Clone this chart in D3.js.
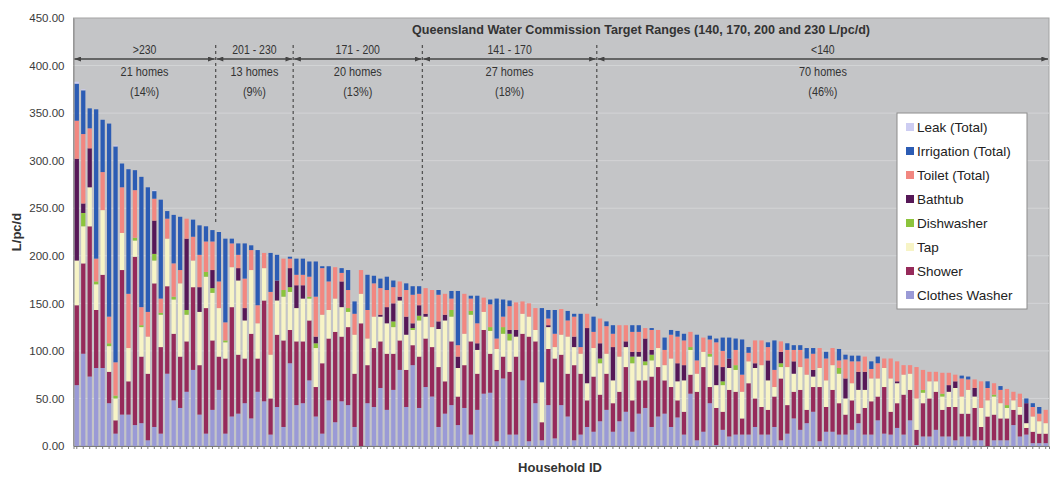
<!DOCTYPE html>
<html>
<head>
<meta charset="utf-8">
<script src="https://cdn.jsdelivr.net/npm/d3@7"></script>
<style>
  body { margin: 0; background: #fff; }
  text { font-family: "Liberation Sans", Arial, sans-serif; }
</style>
</head>
<body>
<div id="chart"></div>
<script>
// household end-use volumes, L/pc/d, households sorted by total use
var clothesWasher = [64,97,73,82,82,45,13,33,33,22, 24,6,20,13,76,48,40,57,80,33, 13,38,59,13,31,34,45,29,57,47,
  12,41,20,87,43,45,69,31,13,48, 25,47,43,20,0,45,41,61,38,59, 80,41,85,40,62,52,20,34,43,22,
  40,12,38,55,56,5,71,12,12,69, 5,45,6,43,8,43,31,6,12,20, 15,26,38,15,26,36,15,34,40,20,
  31,34,20,30,12,55,6,15,45,1, 17,10,12,12,12,20,12,12,20,6, 13,29,17,24,36,5,15,15,12,12,
  17,24,12,12,27,13,12,19,12,27, 1,10,10,17,10,10,6,10,10,6, 6,0,6,6,6,22,10,12,3,3,3];
var shower = [84,95,158,61,98,33,14,152,35,177, 70,70,151,91,92,70,54,53,87,52, 132,73,35,79,115,62,47,89,35,106,
  38,76,91,35,67,65,63,31,74,65, 95,68,82,56,129,40,62,49,59,38, 31,39,21,54,51,52,63,34,67,30,
  45,98,38,67,41,75,23,66,82,49, 110,65,19,59,84,53,45,79,64,28, 58,28,38,30,31,47,33,35,29,53,
  52,35,42,18,24,20,51,68,17,39, 19,49,45,17,54,30,29,26,32,65, 30,28,42,14,26,57,26,44,33,21,
  31,10,28,35,25,49,24,26,42,32, 16,35,40,40,28,31,35,24,24,34, 14,31,27,23,23,16,23,7,12,10,10];
var tap = [47,39,41,27,68,27,23,39,35,17, 31,39,24,34,50,36,77,28,28,56, 33,50,51,17,42,78,40,67,37,34,
  46,36,46,40,35,45,23,41,51,30, 35,31,16,41,31,28,33,26,32,28, 42,37,16,38,23,21,40,64,26,30,
  33,28,25,19,24,22,24,33,21,21, 21,12,42,23,12,21,39,19,21,18, 30,33,21,24,37,21,39,25,16,17,
  20,16,30,20,33,26,19,16,32,24, 28,23,23,28,23,32,44,31,10,12, 40,19,24,37,11,20,28,26,31,17,
  18,25,19,24,19,20,35,21,21,17, 33,11,18,11,14,16,20,18,25,12, 20,17,19,16,11,10,8,5,16,13,11];
var dishwasher = [0,14,0,3,0,3,3,0,0,3, 2,0,7,2,0,3,0,5,0,0, 5,5,0,2,0,0,0,0,0,0,
  0,0,7,5,0,0,2,5,0,0, 0,0,4,0,0,0,0,0,0,6, 0,0,2,5,0,0,0,0,7,0,
  0,4,0,0,4,0,7,7,0,0, 0,0,0,0,0,0,0,0,0,0, 0,5,0,0,0,0,7,0,4,6,
  0,0,0,0,0,3,0,0,3,0, 4,0,5,0,0,0,0,0,0,4, 0,0,0,0,0,0,0,0,6,0,
  0,0,0,0,0,0,0,0,0,0, 0,3,0,0,3,0,0,0,0,0, 0,0,2,0,3,0,0,0,0,0,0];
var bathtub = [107,10,41,0,0,0,0,0,0,0, 0,0,35,0,0,0,0,75,0,26, 0,19,0,0,0,13,13,0,0,0,
  0,21,0,20,24,14,0,7,0,0, 0,27,0,0,0,0,0,2,17,19, 4,19,5,11,3,0,8,6,0,12,
  0,0,7,0,0,0,0,4,7,0, 0,0,0,2,0,0,0,11,0,58, 0,16,0,35,0,6,5,5,24,5,
  0,0,0,19,16,0,0,0,0,21, 15,10,0,0,0,5,0,21,0,12, 0,13,0,0,7,0,0,0,0,21,
  0,19,19,0,0,0,0,2,0,0, 0,0,0,0,0,7,7,0,0,9, 0,0,0,0,0,0,0,21,0,0,0];
var toilet = [40,73,21,24,40,28,35,48,57,50, 19,26,23,15,21,35,14,21,25,34, 32,30,28,19,25,14,31,21,19,16,
  66,0,33,10,11,11,21,42,49,30, 33,9,19,22,25,30,35,28,18,17, 16,28,30,12,27,39,28,22,12,12,
  42,13,21,15,24,11,11,25,29,13, 14,23,0,7,14,27,17,21,7,15, 17,26,29,14,33,17,21,21,11,21,
  19,16,25,28,26,16,14,15,15,24, 17,0,16,18,9,24,26,14,18,11, 18,12,18,17,17,21,23,18,8,20,
  23,11,16,10,16,10,21,21,10,9, 33,21,10,10,22,13,7,19,11,9, 28,13,12,14,17,9,14,0,10,8,14];
var irrigation = [39,46,21,157,55,203,227,25,131,21, 137,131,8,104,8,51,56,0,18,31, 16,12,52,88,5,12,37,5,58,0,
  41,27,0,2,17,17,16,37,2,16, 0,5,21,13,0,37,8,10,14,7, 0,7,9,8,0,0,5,0,8,57,
  0,3,29,0,5,42,18,6,0,0, 0,0,78,9,25,0,10,3,35,0, 16,0,5,9,0,0,7,7,0,2,
  0,13,5,6,7,0,27,0,4,4, 14,22,12,37,6,0,0,5,31,0, 7,5,5,11,6,0,7,0,12,5,
  6,6,0,8,7,0,0,0,0,0, 0,0,0,0,0,0,0,3,3,0, 0,7,0,4,0,0,0,5,4,7,0];
var leak = [2,1,0,0,0,0,1,0,0,0, 0,0,1,0,0,0,0,0,0,0, 0,0,0,0,0,0,0,0,0,0,
  0,0,0,0,0,0,0,0,0,0, 0,0,0,0,0,0,0,0,0,0, 0,0,0,0,0,0,0,0,0,0,
  0,0,0,0,0,0,0,0,0,0, 0,0,0,0,0,0,0,0,0,0, 0,0,0,0,0,0,0,0,0,0,
  0,0,0,0,0,0,0,0,0,0, 0,0,0,0,0,0,0,0,0,0, 0,0,0,0,0,0,0,0,0,0,
  0,0,0,0,0,0,0,0,0,0, 0,0,0,0,0,0,0,0,0,0, 0,0,0,0,0,0,0,0,0,0,0];

var seriesKeys = ["clothesWasher", "shower", "tap", "dishwasher", "bathtub", "toilet", "irrigation", "leak"];
var seriesNames = ["Clothes Washer", "Shower", "Tap", "Dishwasher", "Bathtub", "Toilet (Total)", "Irrigation (Total)", "Leak (Total)"];
var seriesColors = ["#9a9ad6", "#962a5a", "#f7f4c6", "#8cc43c", "#561857", "#f28780", "#2c5cb4", "#cdcdf2"];

var rangeLabels = [">230", "201 - 230", "171 - 200", "141 - 170", "<140"];
var homeCounts = [21, 13, 20, 27, 70];
var homeShares = [14, 9, 13, 18, 46];
var rangeBreaks = [22, 34, 54, 81];      // dashed line drawn after this household
var targetLimits = [230, 200, 170, 140];
var yTicks = [0, 50, 100, 150, 200, 250, 300, 350, 400, 450];

var W = 1050, H = 478;
var margin = {top: 18, right: 1, bottom: 32, left: 73.5},
    width = W - margin.left - margin.right,
    height = H - margin.top - margin.bottom;

var svg = d3.select("#chart")
  .append("svg")
  .attr("width", W)
  .attr("height", H);

var g = svg.append("g")
  .attr("transform", "translate(" + margin.left + "," + margin.top + ")");

var table = clothesWasher.map(function(d, i) {
  var row = {id: i + 1};
  row.clothesWasher = clothesWasher[i];
  row.shower = shower[i];
  row.tap = tap[i];
  row.dishwasher = dishwasher[i];
  row.bathtub = bathtub[i];
  row.toilet = toilet[i];
  row.irrigation = irrigation[i];
  row.leak = leak[i];
  return row;
});

var x = d3.scaleBand()
  .domain(table.map(function(d) { return d.id; }))
  .range([0, width])
  .paddingInner(0.34)
  .paddingOuter(0.18);

var y = d3.scaleLinear()
  .domain([0, 450])
  .range([height, 0]);

// plot background
g.append("rect")
  .attr("width", width)
  .attr("height", height)
  .attr("fill", "#c4c5c7")
  .attr("stroke", "#a3a3a3");

// gridlines
g.selectAll(".grid")
  .data(yTicks.slice(1, -1))
  .enter().append("line")
  .attr("x1", 0)
  .attr("x2", width)
  .attr("y1", function(d) { return y(d); })
  .attr("y2", function(d) { return y(d); })
  .attr("stroke", "#d3d4d6")
  .attr("stroke-width", 1);

// y axis
var yAxis = g.append("g")
  .call(d3.axisLeft(y).tickValues(yTicks).tickFormat(d3.format(".2f")).tickSize(0).tickPadding(9));
yAxis.select(".domain").attr("stroke", "#8a8a8a");
yAxis.selectAll("text")
  .style("font-size", "11.5px")
  .attr("fill", "#3a3a3a");

// stacked bars
var stacked = d3.stack().keys(seriesKeys)(table);

g.selectAll(".series")
  .data(stacked)
  .enter().append("g")
  .attr("class", "series")
  .attr("fill", function(d, i) { return seriesColors[i]; })
  .selectAll("rect")
  .data(function(d) { return d; })
  .enter().append("rect")
  .attr("x", function(d) { return x(d.data.id); })
  .attr("width", x.bandwidth())
  .attr("y", function(d) { return y(d[1]); })
  .attr("height", function(d) { return y(d[0]) - y(d[1]); });

// x axis with a tick per household, no labels
var xAxis = g.append("g")
  .attr("transform", "translate(0," + height + ")")
  .call(d3.axisBottom(x).tickSize(3).tickFormat(""));
xAxis.selectAll("line").attr("stroke", "#7a7a7a");
xAxis.select(".domain").attr("stroke", "#7a7a7a");

// target range dividers
var step = x.step();
var breakX = rangeBreaks.map(function(b) { return x(b) + x.bandwidth() + (step - x.bandwidth()) / 2; });
var edges = [0].concat(breakX).concat([width]);

g.selectAll(".divider")
  .data(breakX)
  .enter().append("line")
  .attr("x1", function(d) { return d; })
  .attr("x2", function(d) { return d; })
  .attr("y1", 27)
  .attr("y2", function(d, i) { return y(targetLimits[i] + 4); })
  .attr("stroke", "#555")
  .attr("stroke-width", 1.3)
  .attr("stroke-dasharray", "3,3");

svg.append("defs").append("marker")
  .attr("id", "arrow")
  .attr("viewBox", "0 0 8 6")
  .attr("refX", 8)
  .attr("refY", 3)
  .attr("markerWidth", 7)
  .attr("markerHeight", 5)
  .attr("markerUnits", "userSpaceOnUse")
  .attr("orient", "auto-start-reverse")
  .append("path")
  .attr("d", "M0,0 L8,3 L0,6 z")
  .attr("fill", "#444");

g.selectAll(".span")
  .data(d3.range(edges.length - 1))
  .enter().append("line")
  .attr("x1", function(i) { return edges[i] + 1; })
  .attr("x2", function(i) { return edges[i + 1] - 1; })
  .attr("y1", 41)
  .attr("y2", 41)
  .attr("stroke", "#444")
  .attr("stroke-width", 1.6)
  .attr("marker-start", "url(#arrow)")
  .attr("marker-end", "url(#arrow)");

// header texts (narrow look)
var mid = function(i) { return (edges[i] + edges[i + 1]) / 2; };

function narrowText(tx, ty, txt, size) {
  g.append("text")
    .attr("transform", "translate(" + tx + "," + ty + ") scale(0.84,1)")
    .attr("text-anchor", "middle")
    .style("font-size", size + "px")
    .attr("fill", "#333")
    .text(txt);
}

rangeLabels.forEach(function(lbl, i) {
  narrowText(mid(i), 36, lbl, 12.5);
  narrowText(mid(i), 58, homeCounts[i] + " homes", 13);
  narrowText(mid(i), 78, "(" + homeShares[i] + "%)", 13);
});

g.append("text")
  .attr("x", 569 - margin.left + 72)
  .attr("y", 16)
  .attr("text-anchor", "middle")
  .attr("textLength", 458)
  .attr("lengthAdjust", "spacingAndGlyphs")
  .style("font-size", "13px")
  .style("font-weight", "bold")
  .attr("fill", "#333")
  .text("Queensland Water Commission Target Ranges (140, 170, 200 and 230 L/pc/d)");

// legend
var legend = svg.append("g")
  .attr("transform", "translate(897,113)");

legend.append("rect")
  .attr("width", 130)
  .attr("height", 196)
  .attr("fill", "#fff")
  .attr("stroke", "#8c8c8c");

var legendItems = legend.selectAll(".item")
  .data(d3.range(seriesKeys.length).reverse())
  .enter().append("g")
  .attr("transform", function(d, i) { return "translate(9," + (14 + i * 24) + ")"; });

legendItems.append("rect")
  .attr("x", 0)
  .attr("y", -4)
  .attr("width", 8)
  .attr("height", 8)
  .attr("fill", function(d) { return seriesColors[d]; });

legendItems.append("text")
  .attr("x", 11)
  .attr("y", 5)
  .style("font-size", "13.5px")
  .attr("fill", "#222")
  .text(function(d) { return seriesNames[d]; });

// axis titles
svg.append("text")
  .attr("transform", "translate(21,232) rotate(-90)")
  .attr("text-anchor", "middle")
  .style("font-size", "13px")
  .style("font-weight", "bold")
  .attr("fill", "#333")
  .text("L/pc/d");

svg.append("text")
  .attr("x", 560)
  .attr("y", 472)
  .attr("text-anchor", "middle")
  .style("font-size", "13px")
  .style("font-weight", "bold")
  .attr("fill", "#333")
  .text("Household ID");
</script>
</body>
</html>
